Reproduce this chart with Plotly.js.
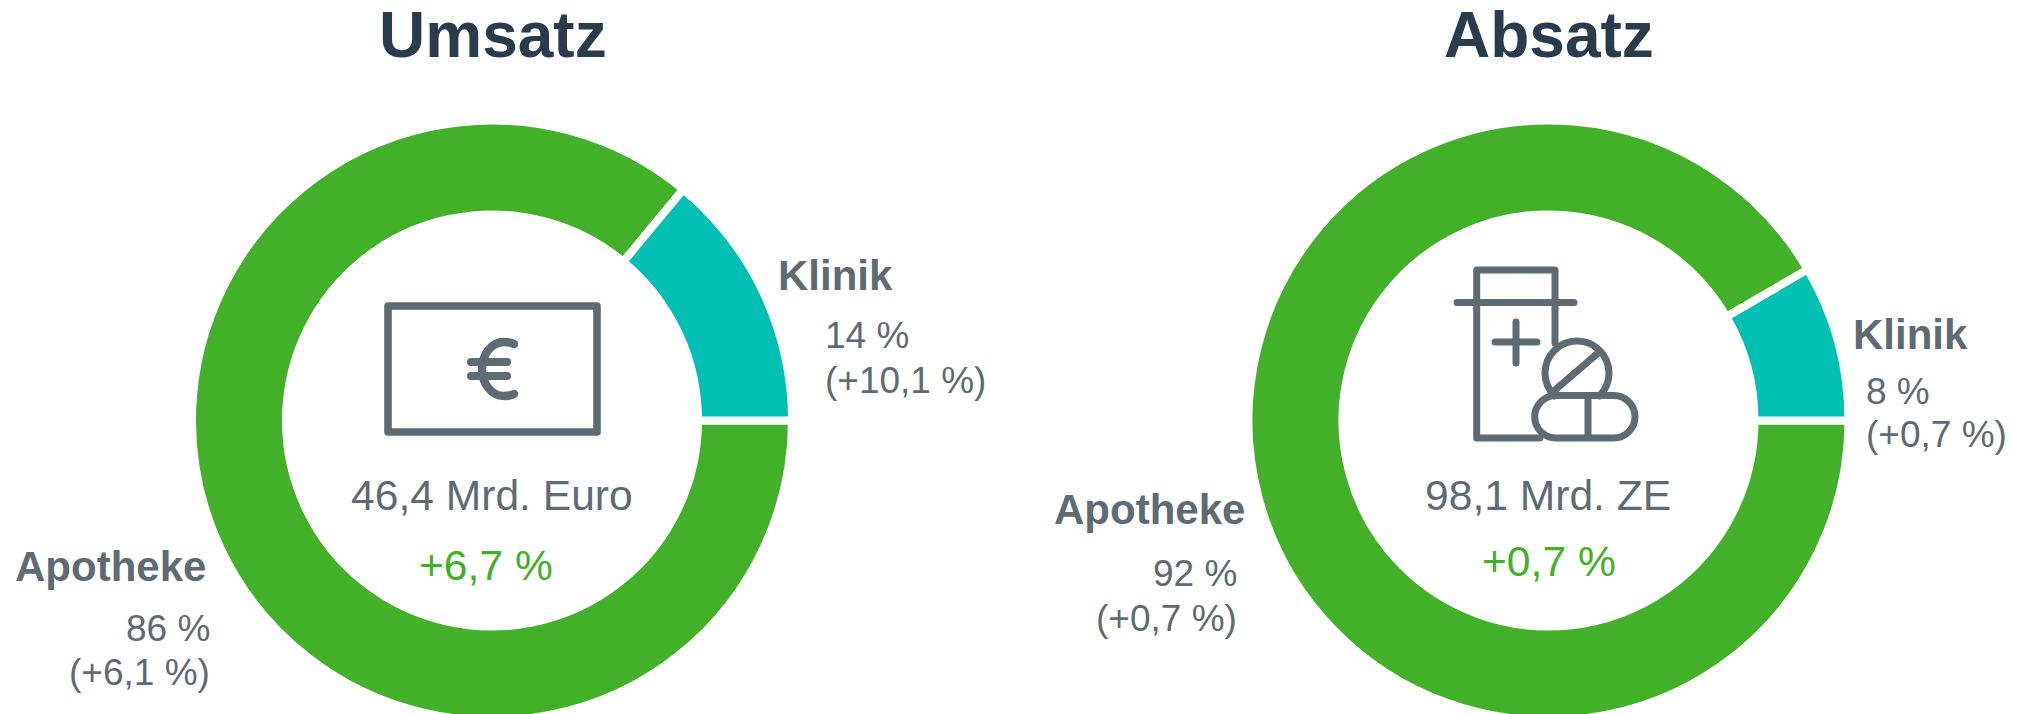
<!DOCTYPE html>
<html><head><meta charset="utf-8">
<script src="https://cdn.plot.ly/plotly-3.0.1.min.js"></script>
<style>html,body{margin:0;padding:0;background:#fff;overflow:hidden;height:714px}#c{position:absolute;left:0;top:0;width:2020px;height:714px;overflow:hidden}</style>
</head><body><div id="c"><div id="p"></div></div>
<script>
const categories = ["Apotheke", "Klinik"];
const umsatzShares = [86, 14];
const absatzShares = [91.6, 8.4];
const chartTitles = ["Umsatz", "Absatz"];
const umsatzLabels = ["86 %", "(+6,1 %)", "14 %", "(+10,1 %)"];
const absatzLabels = ["92 %", "(+0,7 %)", "8 %", "(+0,7 %)"];
const centerLabels = ["46,4 Mrd. Euro", "98,1 Mrd. ZE"];
const centerChanges = ["+6,7 %", "+0,7 %"];

const W = 2020, H = 800;
const GREY = "#5f6b73", DARK = "#2a3b4c", GREEN = "#43b02a", TEAL = "#00bfb3";
const FONT = "Liberation Sans, Arial, sans-serif";
const SEP = 8, R = 296 + SEP / 2, RIN = 210 - SEP / 2;
const dom = (cx, cy) => ({x: [(cx - R) / W, (cx + R) / W], y: [1 - (cy + R) / H, 1 - (cy - R) / H]});
const pie = (vals, cx, cy) => ({
  type: "pie", labels: categories, values: vals, sort: false, direction: "clockwise", rotation: 90,
  hole: RIN / R, domain: dom(cx, cy), textinfo: "none", hoverinfo: "label+percent", showlegend: false,
  marker: {colors: [GREEN, TEAL], line: {color: "#fff", width: SEP}}
});
const txt = (text, x, y, anchor, size, color, bold) => ({
  text: bold ? "<b>" + text + "</b>" : text, x: x / W, y: 1 - y / H, xref: "paper", yref: "paper",
  xanchor: anchor, yanchor: "middle", showarrow: false, align: anchor,
  font: {family: FONT, size, color}
});
const svgUri = s => "data:image/svg+xml;charset=utf-8," + encodeURIComponent(s);
const euroIcon = `<svg xmlns="http://www.w3.org/2000/svg" viewBox="0 0 220 136" width="220" height="136"><g fill="none" stroke="${GREY}" stroke-width="7.6" stroke-linecap="round" stroke-linejoin="round"><rect x="4" y="4" width="209" height="126"/><path stroke-width="8.4" d="M130 42 Q126 40 120 40 C107 40 98 53 98 67 C98 81 107 94 120 94 Q126 94 130 92"/><path stroke-width="8" d="M87 60 H123 M87 74 H123"/></g></svg>`;
const pillIcon = `<svg xmlns="http://www.w3.org/2000/svg" viewBox="0 0 200 200" width="200" height="200"><g fill="none" stroke="${GREY}" stroke-width="7" stroke-linecap="round" stroke-linejoin="round"><path d="M7 42.5 H124 M26.7 42.5 V10 H105 V83 M26.7 42.5 V178 H90"/><path d="M45 82 H87 M66 62 V103"/><path d="M104.4 135.7 A32 32 0 1 1 149.6 135.7 M105 130 L148 93"/><path d="M106 135.5 H163.7 A21.3 21.25 0 0 1 163.7 178 H106 A21.3 21.25 0 0 1 106 135.5 Z M138 135.5 V178"/></g></svg>`;
const img = (src, x, y, w, h) => ({source: svgUri(src), xref: "paper", yref: "paper", x: x / W, y: 1 - y / H,
  sizex: w / W, sizey: h / H, xanchor: "left", yanchor: "top", sizing: "stretch", layer: "above"});

const annotations = [
  txt(chartTitles[0], 493, 35, "center", 64, DARK, true),
  txt(chartTitles[1], 1549, 35, "center", 64, DARK, true),
  txt(categories[1], 776, 275, "left", 42, GREY, true),
  txt(umsatzLabels[2], 823, 336, "left", 37, GREY),
  txt(umsatzLabels[3], 823, 380, "left", 37, GREY),
  txt(categories[0], 207.5, 566, "right", 42, GREY, true),
  txt(umsatzLabels[0], 212, 628, "right", 37, GREY),
  txt(umsatzLabels[1], 212, 672, "right", 37, GREY),
  txt(centerLabels[0], 492, 495, "center", 42.6, GREY),
  txt(centerChanges[0], 485.5, 565, "center", 42.6, GREEN),
  txt(categories[1], 1851, 335, "left", 42, GREY, true),
  txt(absatzLabels[2], 1864, 391, "left", 37, GREY),
  txt(absatzLabels[3], 1864, 434, "left", 37, GREY),
  txt(categories[0], 1246.5, 510, "right", 42, GREY, true),
  txt(absatzLabels[0], 1239, 573, "right", 37, GREY),
  txt(absatzLabels[1], 1239, 618, "right", 37, GREY),
  txt(centerLabels[1], 1548, 495, "center", 42.6, GREY),
  txt(centerChanges[1], 1549, 561, "center", 42.6, GREEN)
];
Plotly.newPlot("p", [pie(umsatzShares, 492, 420.5), pie(absatzShares, 1548.5, 420.5)], {
  width: W, height: H, margin: {l: 0, r: 0, t: 0, b: 0}, paper_bgcolor: "#fff", annotations,
  images: [img(euroIcon, 384, 302, 220, 136), img(pillIcon, 1450, 260, 200, 200)]
}, {displayModeBar: false, staticPlot: true});
</script></body></html>
